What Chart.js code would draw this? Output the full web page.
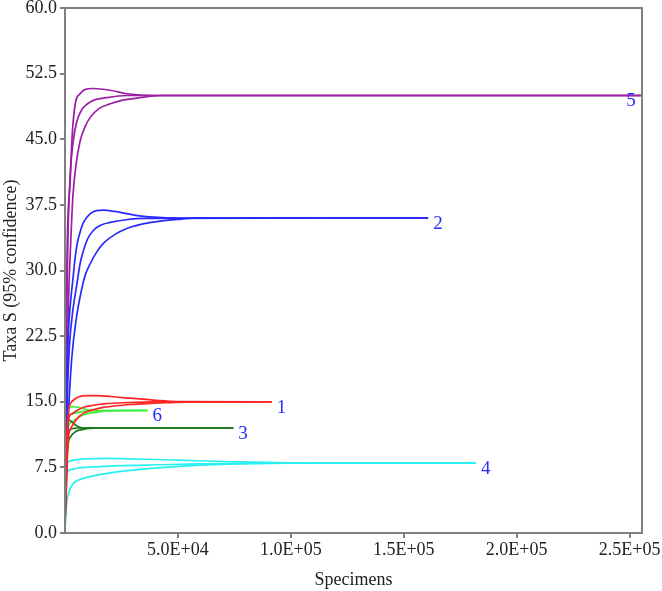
<!DOCTYPE html>
<html>
<head>
<meta charset="utf-8">
<script src="https://cdn.jsdelivr.net/npm/chart.js@4.4.1/dist/chart.umd.min.js"></script>
<style>
  html, body { margin: 0; padding: 0; background: #fff; }
  #wrap { width: 662px; height: 591px; }
</style>
</head>
<body>
<div id="wrap"><canvas id="c" width="662" height="591"></canvas></div>
<script>
// ---- Data (x = specimens, y = taxa) ----
const curveNames = ['1', '2', '3', '4', '5', '6'];

// Curve 1 (red), asymptote 15
const c1Upper = [[0,1],[300,6],[800,11],[1550,14.0],[2500,14.8],[3800,15.2],[6000,15.55],[9700,15.7],[14000,15.7],[20000,15.6],[27000,15.45],[34800,15.3],[42000,15.12],[49600,15.02],[91600,15]];
const c1Mean  = [[0,1],[300,5],[800,9.5],[1550,12.9],[3000,13.6],[5300,14.0],[8500,14.4],[12600,14.6],[18000,14.78],[27400,14.9],[40000,14.98],[91600,15]];
const c1Lower = [[0,1],[400,4],[900,8],[1550,11.0],[2500,11.9],[3800,12.5],[5500,13.1],[8200,13.7],[12000,14.05],[17000,14.35],[23000,14.55],[30300,14.7],[38000,14.82],[46600,14.9],[56000,14.97],[91600,15]];

// Curve 2 (blue), asymptote 36
const c2Upper = [[0,1],[400,10],[900,18],[1500,23],[2500,26.5],[3500,29],[4500,31.5],[5500,33.2],[6700,34.4],[8200,35.5],[11200,36.5],[14000,36.85],[17000,36.9],[22000,36.75],[27400,36.5],[33000,36.25],[39200,36.1],[50000,36],[160800,36]];
const c2Mean  = [[0,1],[500,9],[1200,17],[2000,21.5],[3500,25.5],[5300,28.5],[6700,30.8],[8200,32.3],[10000,33.6],[12600,34.6],[16000,35.2],[20000,35.5],[27000,35.8],[35000,35.95],[160800,36]];
const c2Lower = [[0,1],[700,8],[1600,14],[3000,20],[5000,24.5],[7500,28],[9000,29.5],[11200,30.8],[14000,32.1],[17000,33.1],[22000,34.1],[27400,34.8],[35000,35.35],[42200,35.65],[50000,35.85],[60000,36],[160800,36]];

// Curve 3 (dark green), asymptote 12
const c3Upper = [[0,1],[300,8],[800,12.5],[1500,12.9],[2500,12.8],[3800,12.5],[5500,12.2],[8200,12.0],[74500,12]];
const c3Mean  = [[0,1],[300,7],[800,10.5],[1500,11.6],[2500,11.85],[4000,11.95],[6000,12],[74500,12]];
const c3Lower = [[0,1],[400,5],[1000,9],[1500,10.4],[2500,11.0],[3800,11.4],[5500,11.7],[8200,11.85],[11000,11.95],[15000,12],[74500,12]];

// Curve 4 (cyan), asymptote 8
const c4Upper = [[0,0.5],[200,4],[600,7.2],[1000,7.96],[2000,8.2],[3800,8.33],[8000,8.45],[12600,8.5],[20000,8.52],[27400,8.48],[40000,8.4],[49600,8.33],[74600,8.14],[97000,8.02],[120000,8.0],[182000,8]];
const c4Mean  = [[0,0.3],[300,3.5],[600,5.5],[900,6.8],[2500,7.25],[5300,7.4],[12000,7.55],[20000,7.65],[35000,7.75],[42000,7.8],[60000,7.9],[80000,7.96],[100000,8.0],[182000,8]];
const c4Lower = [[0,0],[300,2],[800,3.5],[1500,4.5],[3800,5.7],[8200,6.24],[20000,6.88],[38000,7.38],[60000,7.76],[90000,7.96],[120000,8.0],[182000,8]];

// Curve 5 (purple), asymptote 50
const c5Upper = [[0,1],[400,20],[1000,33],[2300,40.3],[3200,45.5],[4500,49.0],[6700,50.2],[9000,50.7],[12600,50.8],[20000,50.6],[27400,50.2],[39000,50.0],[60000,50.0],[255000,50.0]];
const c5Mean  = [[0,1],[500,18],[900,28],[1400,35],[2300,41],[3500,44.5],[5200,47],[7500,48.4],[9700,49.0],[13000,49.5],[17000,49.7],[27400,50.0],[255000,50]];
const c5Lower = [[0,1],[700,15],[1500,26],[2500,33],[3500,38.5],[5000,42.3],[6700,44.8],[9000,46.5],[11200,47.5],[15000,48.5],[20000,49.05],[26000,49.5],[31800,49.7],[42200,50.0],[255000,50]];

// Curve 6 (light green), asymptote 14
const c6Upper = [[0,1],[300,9],[800,13.5],[1500,14.35],[3000,14.45],[5200,14.4],[8000,14.2],[11200,14.05],[15000,14],[36500,14]];
const c6Mean  = [[0,1],[400,7],[900,11.5],[1500,13.3],[3000,13.6],[5200,13.75],[8500,13.9],[12000,13.97],[36500,14]];
const c6Lower = [[0,0.5],[500,4],[1000,8.5],[1500,12.1],[3000,12.7],[5200,13.1],[8000,13.5],[11200,13.7],[15000,13.85],[19000,13.96],[25000,14],[36500,14]];

// Axis ticks
const xTickValues = [50000, 100000, 150000, 200000, 250000];
const yTickStep = 7.5;
const xMax = 255500;
const yMax = 60;

// ---- Build chart ----
const groups = [
  { name: curveNames[0], color: '#ff2424', lines: [c1Upper, c1Mean, c1Lower] },
  { name: curveNames[1], color: '#2a2aff', lines: [c2Upper, c2Mean, c2Lower] },
  { name: curveNames[2], color: '#1f7a1f', lines: [c3Upper, c3Mean, c3Lower] },
  { name: curveNames[3], color: '#29f0f0', lines: [c4Upper, c4Mean, c4Lower] },
  { name: curveNames[4], color: '#9c1fa3', lines: [c5Upper, c5Mean, c5Lower] },
  { name: curveNames[5], color: '#3cf03c', lines: [c6Upper, c6Mean, c6Lower] }
];

const datasets = [];
groups.forEach((g, gi) => {
  g.lines.forEach((arr, li) => {
    datasets.push({
      label: g.name + '_' + li,
      data: arr.map(p => ({ x: p[0], y: p[1] })),
      borderColor: g.color,
      borderWidth: 1.7,
      pointRadius: 0,
      fill: false,
      cubicInterpolationMode: 'monotone'
    });
  });
});

function sci(v) {
  const e = Math.floor(Math.log10(v));
  const m = v / Math.pow(10, e);
  return m.toFixed(1) + 'E+' + String(e).padStart(2, '0');
}

const serif = '"Liberation Serif", "Times New Roman", serif';

const frame = {
  id: 'frame',
  afterDatasetsDraw(chart) {
    const { ctx, chartArea: a, scales } = chart;
    ctx.save();
    ctx.strokeStyle = '#808080';
    ctx.lineWidth = 2;
    ctx.strokeRect(a.left, a.top, a.right - a.left, a.bottom - a.top);
    // curve labels
    ctx.fillStyle = '#2a2aff';
    ctx.font = '19px ' + serif;
    ctx.textBaseline = 'middle';
    groups.forEach(g => {
      const mean = g.lines[1];
      const last = mean[mean.length - 1];
      let px = scales.x.getPixelForValue(last[0]) + 5;
      const py = scales.y.getPixelForValue(last[1]) + 6;
      const w = ctx.measureText(g.name).width;
      if (px + w > a.right) px = scales.x.getPixelForValue(last[0]) - w - 5;
      ctx.textAlign = 'left';
      ctx.fillText(g.name, px, py);
    });
    ctx.restore();
  }
};

new Chart(document.getElementById('c'), {
  type: 'line',
  data: { datasets },
  plugins: [frame],
  options: {
    responsive: false,
    animation: false,
    layout: { padding: { left: 0, top: 8, right: 20, bottom: 0 } },
    plugins: { legend: { display: false }, tooltip: { enabled: false } },
    scales: {
      x: {
        type: 'linear',
        min: 0,
        max: xMax,
        afterBuildTicks: s => { s.ticks = xTickValues.map(v => ({ value: v })); },
        afterFit: s => { s.height = 58; s.paddingRight = 0; s.paddingLeft = 0; },
        grid: { display: true, drawOnChartArea: false, drawTicks: true, tickLength: 5, color: '#808080', lineWidth: 2 },
        border: { display: true, color: '#808080', width: 2 },
        ticks: {
          color: '#222',
          font: { family: serif, size: 18 },
          padding: 1,
          maxRotation: 0,
          callback: v => sci(v)
        },
        title: { display: true, text: 'Specimens', color: '#222', font: { family: serif, size: 18 }, padding: { top: 2, bottom: 0 } }
      },
      y: {
        type: 'linear',
        min: 0,
        max: yMax,
        afterFit: s => { s.width = 65; s.paddingTop = 0; s.paddingBottom = 0; },
        grid: { display: true, drawOnChartArea: false, drawTicks: true, tickLength: 5, color: '#808080', lineWidth: 2 },
        border: { display: true, color: '#808080', width: 2 },
        ticks: {
          stepSize: yTickStep,
          color: '#222',
          font: { family: serif, size: 18 },
          padding: 3,
          callback: v => Number(v).toFixed(1)
        },
        title: { display: true, text: 'Taxa S (95% confidence)', color: '#222', font: { family: serif, size: 18 }, padding: { top: 0, bottom: 0 } }
      }
    }
  }
});
</script>
</body>
</html>
